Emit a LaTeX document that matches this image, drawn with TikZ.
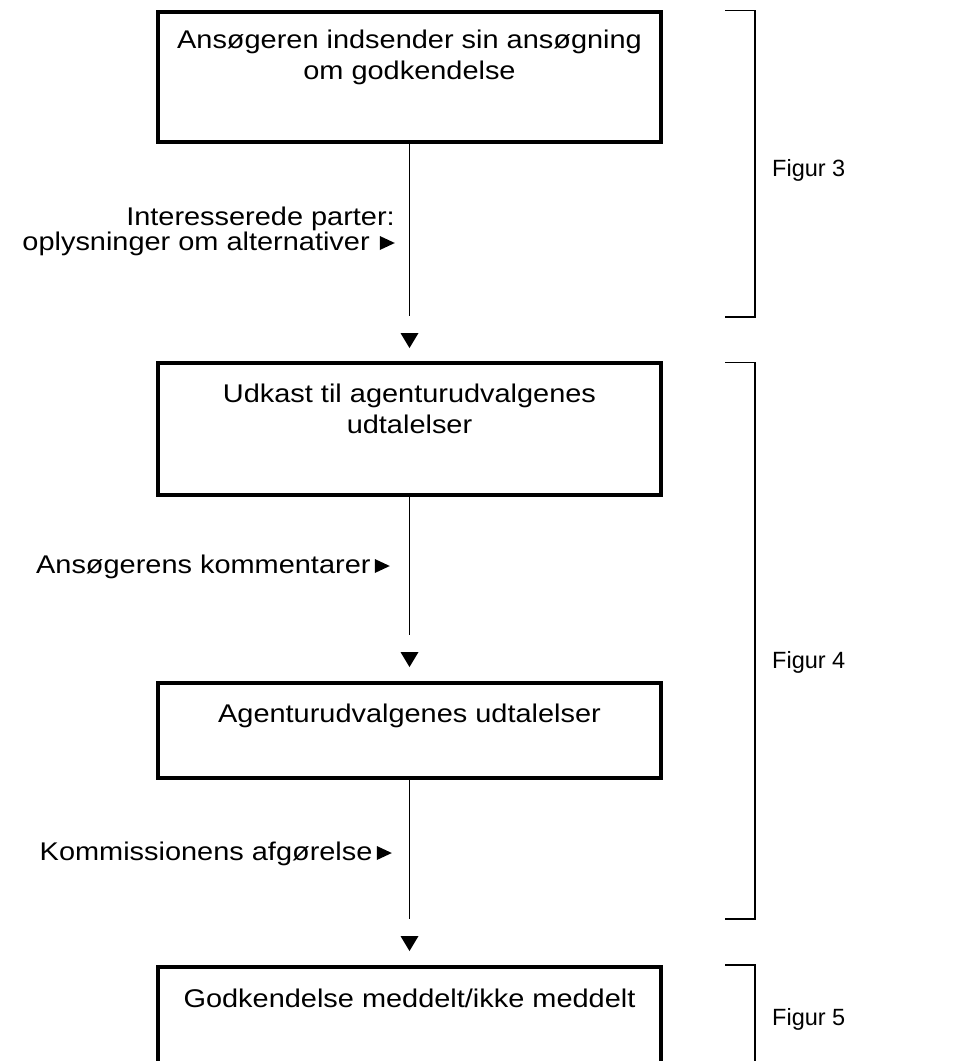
\documentclass[tikz,border=0pt]{standalone}
\usepackage{fontspec}
\setmainfont{Liberation Sans}
\newfontfamily\widefont{Liberation Sans}[FakeStretch=1.13]
\newcommand\boxfont{\widefont\fontsize{25.6}{31}\selectfont}
\newcommand\notefont{\widefont\fontsize{25.6}{25}\selectfont}
\newcommand\figfont{\fontsize{23.5}{28}\selectfont}
% small black pointer placed after each side note
\newcommand\ptr{\tikz[baseline=0pt]\fill[black] (0pt,0pt) -- (0pt,14pt) -- (15pt,7pt) -- cycle;}

\tikzset{
  stepbox/.style={draw=black, line width=4pt, inner sep=0pt, minimum width=503pt},
  boxtext/.style={font=\boxfont, align=center, anchor=base, inner sep=0pt},
  note/.style={font=\notefont, align=right, anchor=base east, inner sep=0pt},
  figlabel/.style={font=\figfont, anchor=base west, inner sep=0pt},
  conn/.style={draw=black, line width=1.1pt, shorten >=17pt},
  tip/.style={fill=black},
  brk/.style={draw=black, line width=1.3pt}
}

\begin{document}
\begin{tikzpicture}[x=1pt, y=-1pt]
  \clip (0,0) rectangle (969,1061);
  \fill[white] (0,0) rectangle (969,1061);

  % process boxes
  \node[stepbox, minimum height=130pt] (b1) at (409.5,77) {};
  \node[stepbox, minimum height=132pt] (b2) at (409.5,429) {};
  \node[stepbox, minimum height=95pt]  (b3) at (409.5,730.5) {};
  \node[stepbox, minimum height=130pt] (b4) at (409.5,1032) {};

  % box texts (a node's base is the baseline of its last line)
  \node[boxtext] (t1) at (409.5,79)  {Ansøgeren indsender sin ansøgning\\om godkendelse};
  \node[boxtext] (t2) at (409.5,433) {Udkast til agenturudvalgenes\\udtalelser};
  \node[boxtext] (t3) at (409.5,722) {Agenturudvalgenes udtalelser};
  \node[boxtext] (t4) at (409.5,1007) {Godkendelse meddelt/ikke meddelt};

  % arrow heads below each connector
  \coordinate (a1) at (409.5,333);
  \coordinate (a2) at (409.5,652);
  \coordinate (a3) at (409.5,936);
  \foreach \a in {a1,a2,a3}
    \fill[tip] (\a) ++(-9,0) -- ++(18,0) -- ++(-9,15) -- cycle;

  % connectors
  \draw[conn] (b1.south) -- (a1);
  \draw[conn] (b2.south) -- (a2);
  \draw[conn] (b3.south) -- (a3);

  % side notes
  \node[note] (n1) at (395,250) {Interesserede parter:\\oplysninger om alternativer\hspace{2pt} \ptr\hspace{6pt}};
  \node[note] (n2) at (390,573) {Ansøgerens kommentarer\,\ptr};
  \node[note] (n3) at (392,860) {Kommissionens afgørelse\,\ptr};

  % brackets grouping the steps
  \draw[brk] (725,10.7) -- (755,10.7) -- (755,317) -- (725,317);
  \draw[brk] (725,362.7) -- (755,362.7) -- (755,919) -- (725,919);
  \draw[brk] (725,965) -- (755,965) -- (755,1080);

  \node[figlabel] (f3) at (772,176)  {Figur 3};
  \node[figlabel] (f4) at (772,668)  {Figur 4};
  \node[figlabel] (f5) at (772,1025) {Figur 5};
\end{tikzpicture}
\end{document}
